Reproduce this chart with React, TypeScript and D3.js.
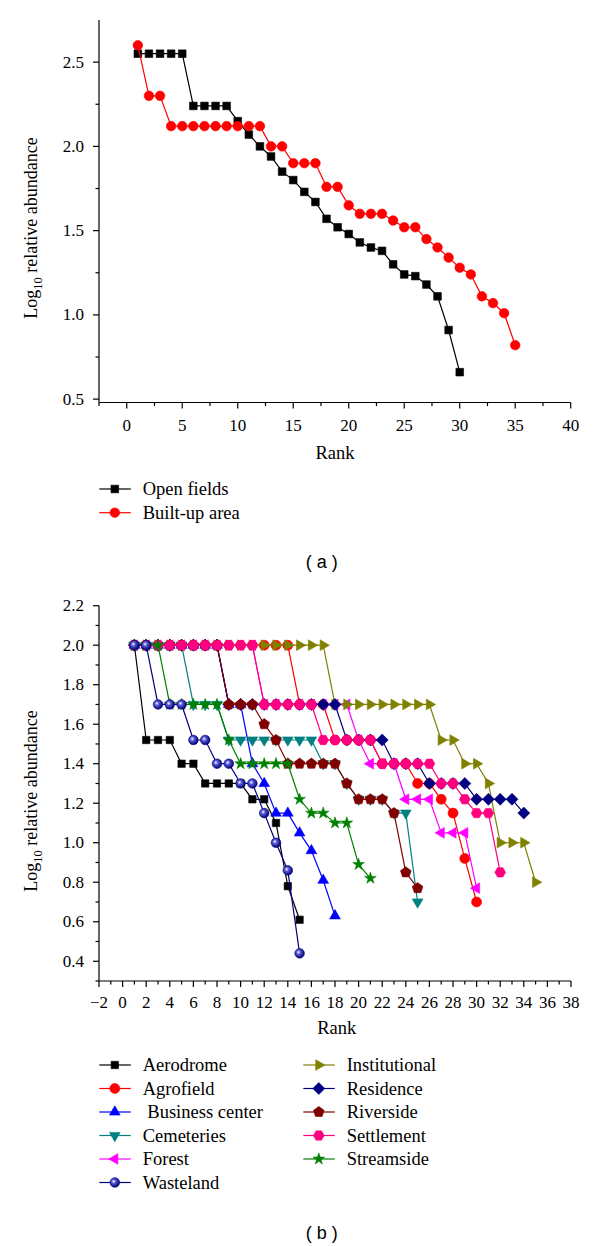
import React from 'react';
import * as d3 from 'd3';

// ---------- Panel (a) data ----------
const openFields = [2.55, 2.55, 2.55, 2.55, 2.55, 2.24, 2.24, 2.24, 2.24, 2.15, 2.07, 2.0, 1.94, 1.85, 1.8, 1.73, 1.67, 1.57, 1.52, 1.48, 1.43, 1.4, 1.38, 1.3, 1.24, 1.23, 1.18, 1.11, 0.91, 0.66];
const builtUp = [2.6, 2.3, 2.3, 2.12, 2.12, 2.12, 2.12, 2.12, 2.12, 2.12, 2.12, 2.12, 2.0, 2.0, 1.9, 1.9, 1.9, 1.76, 1.76, 1.65, 1.6, 1.6, 1.6, 1.56, 1.52, 1.52, 1.45, 1.4, 1.34, 1.28, 1.24, 1.11, 1.07, 1.01, 0.82];
const xTicksA = [0, 5, 10, 15, 20, 25, 30, 35, 40];
const xMinorA = [-2.5, 2.5, 7.5, 12.5, 17.5, 22.5, 27.5, 32.5, 37.5];
const yTicksA = [0.5, 1.0, 1.5, 2.0, 2.5];
const yMinorA = [0.75, 1.25, 1.75, 2.25];

// ---------- Panel (b) data ----------
const aerodrome = [2.0, 1.52, 1.52, 1.52, 1.4, 1.4, 1.3, 1.3, 1.3, 1.3, 1.22, 1.22, 1.1, 0.78, 0.61];
const agrofield = [2.0, 2.0, 2.0, 2.0, 2.0, 2.0, 2.0, 2.0, 2.0, 2.0, 2.0, 2.0, 2.0, 2.0, 1.7, 1.7, 1.7, 1.52, 1.52, 1.52, 1.52, 1.4, 1.4, 1.4, 1.3, 1.3, 1.22, 1.15, 0.92, 0.7];
const businessCenter = [2.0, 2.0, 2.0, 2.0, 2.0, 2.0, 2.0, 2.0, 1.7, 1.7, 1.4, 1.3, 1.15, 1.15, 1.05, 0.96, 0.81, 0.63];
const cemeteries = [2.0, 2.0, 2.0, 2.0, 2.0, 1.7, 1.7, 1.7, 1.52, 1.52, 1.52, 1.52, 1.52, 1.52, 1.52, 1.52, 1.4, 1.4, 1.3, 1.22, 1.22, 1.22, 1.15, 1.15, 0.7];
const forest = [2.0, 2.0, 2.0, 2.0, 2.0, 2.0, 2.0, 2.0, 2.0, 2.0, 2.0, 1.7, 1.7, 1.7, 1.7, 1.7, 1.7, 1.7, 1.7, 1.52, 1.4, 1.4, 1.4, 1.22, 1.22, 1.22, 1.05, 1.05, 1.05, 0.77];
const wasteland = [2.0, 2.0, 1.7, 1.7, 1.7, 1.52, 1.52, 1.4, 1.4, 1.3, 1.3, 1.15, 1.0, 0.86, 0.44];
const institutional = [2.0, 2.0, 2.0, 2.0, 2.0, 2.0, 2.0, 2.0, 2.0, 2.0, 2.0, 2.0, 2.0, 2.0, 2.0, 2.0, 2.0, 1.7, 1.7, 1.7, 1.7, 1.7, 1.7, 1.7, 1.7, 1.7, 1.52, 1.52, 1.4, 1.4, 1.3, 1.0, 1.0, 1.0, 0.8];
const residence = [2.0, 2.0, 2.0, 2.0, 2.0, 2.0, 2.0, 2.0, 1.7, 1.7, 1.7, 1.7, 1.7, 1.7, 1.7, 1.7, 1.7, 1.7, 1.52, 1.52, 1.52, 1.52, 1.4, 1.4, 1.4, 1.3, 1.3, 1.3, 1.3, 1.22, 1.22, 1.22, 1.22, 1.15];
const riverside = [2.0, 2.0, 2.0, 2.0, 2.0, 2.0, 2.0, 2.0, 1.7, 1.7, 1.7, 1.6, 1.52, 1.4, 1.4, 1.4, 1.4, 1.4, 1.3, 1.22, 1.22, 1.22, 1.15, 0.85, 0.77];
const settlement = [2.0, 2.0, 2.0, 2.0, 2.0, 2.0, 2.0, 2.0, 2.0, 2.0, 2.0, 1.7, 1.7, 1.7, 1.7, 1.7, 1.52, 1.52, 1.52, 1.52, 1.52, 1.4, 1.4, 1.4, 1.4, 1.4, 1.3, 1.3, 1.22, 1.15, 1.15, 0.85];
const streamside = [2.0, 2.0, 2.0, 1.7, 1.7, 1.7, 1.7, 1.7, 1.52, 1.4, 1.4, 1.4, 1.4, 1.4, 1.22, 1.15, 1.15, 1.1, 1.1, 0.89, 0.82];
const xTicksB = [-2, 0, 2, 4, 6, 8, 10, 12, 14, 16, 18, 20, 22, 24, 26, 28, 30, 32, 34, 36, 38];
const yTicksB = [0.4, 0.6, 0.8, 1.0, 1.2, 1.4, 1.6, 1.8, 2.0, 2.2];

const SERIF = '"Liberation Serif", "Times New Roman", serif';
const SANS = '"Liberation Sans", Arial, sans-serif';

function poly(n: number, r: number, rot: number): string {
  const pts = d3.range(n).map((i) => {
    const a = rot + (i * 2 * Math.PI) / n;
    return [r * Math.cos(a), r * Math.sin(a)];
  });
  return 'M' + pts.map((p) => p[0].toFixed(2) + ',' + p[1].toFixed(2)).join('L') + 'Z';
}

const SHAPES: Record<string, string> = {
  square: poly(4, 5.4, Math.PI / 4),
  squareB: poly(4, 5.2, Math.PI / 4),
  circle: d3.symbol(d3.symbolCircle, Math.PI * 4.8 * 4.8)() as string,
  circleB: d3.symbol(d3.symbolCircle, Math.PI * 5 * 5)() as string,
  ball: d3.symbol(d3.symbolCircle, Math.PI * 4.8 * 4.8)() as string,
  triUp: poly(3, 6.2, -Math.PI / 2),
  triDown: poly(3, 6.2, Math.PI / 2),
  triLeft: poly(3, 6.2, Math.PI),
  triRight: poly(3, 6.2, 0),
  diamond: poly(4, 6, 0),
  pentagon: poly(5, 5.6, -Math.PI / 2),
  hexagon: poly(6, 5.4, 0),
  star: d3.symbol(d3.symbolStar, 42)() as string,
};

type Series = { name: string; values: number[]; color: string; shape: string };

const seriesA: Series[] = [
  { name: 'Open fields', values: openFields, color: '#000000', shape: 'square' },
  { name: 'Built-up area', values: builtUp, color: '#ff0000', shape: 'circle' },
];

const legendLeftB: Series[] = [
  { name: 'Aerodrome', values: aerodrome, color: '#000000', shape: 'squareB' },
  { name: 'Agrofield', values: agrofield, color: '#ff0000', shape: 'circleB' },
  { name: ' Business center', values: businessCenter, color: '#0000ff', shape: 'triUp' },
  { name: 'Cemeteries', values: cemeteries, color: '#008080', shape: 'triDown' },
  { name: 'Forest', values: forest, color: '#ff00ff', shape: 'triLeft' },
  { name: 'Wasteland', values: wasteland, color: '#000080', shape: 'ball' },
];
const legendRightB: Series[] = [
  { name: 'Institutional', values: institutional, color: '#808000', shape: 'triRight' },
  { name: 'Residence', values: residence, color: '#000080', shape: 'diamond' },
  { name: 'Riverside', values: riverside, color: '#800000', shape: 'pentagon' },
  { name: 'Settlement', values: settlement, color: '#ff0080', shape: 'hexagon' },
  { name: 'Streamside', values: streamside, color: '#008000', shape: 'star' },
];
// drawing order (wasteland appears on top in the original)
const drawOrderB: Series[] = [
  legendLeftB[0], legendLeftB[1], legendLeftB[2], legendLeftB[3], legendLeftB[4],
  legendRightB[0], legendRightB[1], legendRightB[2], legendRightB[3], legendRightB[4],
  legendLeftB[5],
];

function Marker({ s, x, y }: { s: Series; x: number; y: number }) {
  const fill = s.shape === 'ball' ? 'url(#ballGrad)' : s.color;
  return (
    <path
      d={SHAPES[s.shape]}
      transform={`translate(${x},${y})`}
      fill={fill}
      stroke={s.color}
      strokeWidth={0.6}
    />
  );
}

function SeriesPlot({ s, x, y, lw }: { s: Series; x: d3.ScaleLinear<number, number>; y: d3.ScaleLinear<number, number>; lw: number }) {
  const pts = s.values.map((v, i) => [i + 1, v] as [number, number]);
  const line = d3.line<[number, number]>().x((d) => x(d[0])).y((d) => y(d[1]));
  return (
    <g>
      <path d={line(pts) as string} fill="none" stroke={s.color} strokeWidth={lw} />
      {pts.map((p, i) => (
        <Marker key={i} s={s} x={x(p[0])} y={y(p[1])} />
      ))}
    </g>
  );
}

function YLabel({ x, y }: { x: number; y: number }) {
  return (
    <text
      transform={`translate(${x},${y}) rotate(-90)`}
      textAnchor="middle"
      fontFamily={SERIF}
      fontSize={18}
      fill="#000"
    >
      Log
      <tspan fontSize={12.5} dy={5}>10</tspan>
      <tspan dy={-5}> relative abundance</tspan>
    </text>
  );
}

function Axes({
  x, y, xTicks, xMinor, yTicks, yMinor, xFmt, yFmt, labelY,
}: {
  x: d3.ScaleLinear<number, number>; y: d3.ScaleLinear<number, number>;
  xTicks: number[]; xMinor: number[]; yTicks: number[]; yMinor: number[];
  xFmt: (v: number) => string; yFmt: (v: number) => string; labelY: number;
}) {
  const [x0, x1] = x.range();
  const [y0, y1] = y.range();
  return (
    <g stroke="#000" strokeWidth={1.2}>
      <line x1={x0} x2={x1} y1={y0} y2={y0} />
      <line x1={x0} x2={x0} y1={y0} y2={y1} />
      {xTicks.map((t) => (
        <line key={'xt' + t} x1={x(t)} x2={x(t)} y1={y0} y2={y0 + 6} />
      ))}
      {xMinor.map((t) => (
        <line key={'xm' + t} x1={x(t)} x2={x(t)} y1={y0} y2={y0 + 3.5} />
      ))}
      {yTicks.map((t) => (
        <line key={'yt' + t} x1={x0} x2={x0 - 6} y1={y(t)} y2={y(t)} />
      ))}
      {yMinor.map((t) => (
        <line key={'ym' + t} x1={x0} x2={x0 - 3.5} y1={y(t)} y2={y(t)} />
      ))}
      <g stroke="none" fill="#000" fontFamily={SERIF} fontSize={17}>
        {xTicks.map((t) => (
          <text key={'xl' + t} x={x(t)} y={labelY} textAnchor="middle" dominantBaseline="central">
            {xFmt(t)}
          </text>
        ))}
        {yTicks.map((t) => (
          <text key={'yl' + t} x={x0 - 15} y={y(t)} textAnchor="end" dominantBaseline="central">
            {yFmt(t)}
          </text>
        ))}
      </g>
    </g>
  );
}

function LegendItem({ s, x, y, textX }: { s: Series; x: number; y: number; textX: number }) {
  return (
    <g>
      <line x1={x} x2={x + 31.5} y1={y} y2={y} stroke={s.color} strokeWidth={1.2} />
      <Marker s={s} x={x + 15.5} y={y} />
      <text
        x={textX}
        y={y}
        dominantBaseline="central"
        fontFamily={SERIF}
        fontSize={18.5}
        fill="#000"
        style={{ whiteSpace: 'pre' }}
      >
        {s.name}
      </text>
    </g>
  );
}

export default function App() {
  const xA = d3.scaleLinear().domain([-2.5, 40]).range([99, 570.7]);
  const yA = d3.scaleLinear().domain([0.48, 2.75]).range([402.5, 20]);
  const xB = d3.scaleLinear().domain([-2, 38]).range([99, 571]);
  const yB = d3.scaleLinear().domain([0.3, 2.2]).range([981, 605.7]);
  const xMinorB = d3.range(-1, 38, 2);
  const yMinorB = [0.3, 0.5, 0.7, 0.9, 1.1, 1.3, 1.5, 1.7, 1.9, 2.1];

  const fmtB = (v: number) => (v < 0 ? '\u2212' + Math.abs(v) : String(v));

  return (
    <svg
      width={600}
      height={1246}
      style={{ position: 'absolute', left: 0, top: 0, background: '#fff' }}
      xmlns="http://www.w3.org/2000/svg"
    >
      <defs>
        <radialGradient id="ballGrad" cx="0.4" cy="0.4" r="0.6" fx="0.38" fy="0.38">
          <stop offset="0%" stopColor="#ffffff" />
          <stop offset="35%" stopColor="#5a5ad8" />
          <stop offset="100%" stopColor="#000070" />
        </radialGradient>
      </defs>
      <rect x={0} y={0} width={600} height={1246} fill="#fff" />

      {/* Panel (a) */}
      <Axes
        x={xA} y={yA}
        xTicks={xTicksA} xMinor={xMinorA} yTicks={yTicksA} yMinor={yMinorA}
        xFmt={(v) => String(v)} yFmt={(v) => v.toFixed(1)} labelY={425}
      />
      {seriesA.map((s) => (
        <SeriesPlot key={s.name} s={s} x={xA} y={yA} lw={1.2} />
      ))}
      <text x={335} y={453} textAnchor="middle" dominantBaseline="central" fontFamily={SERIF} fontSize={18.5}>
        Rank
      </text>
      <YLabel x={37} y={228} />
      {seriesA.map((s, i) => (
        <LegendItem key={s.name} s={s} x={99.3} y={489 + i * 23.7} textX={142.7} />
      ))}
      <text x={321.7} y={561.7} textAnchor="middle" dominantBaseline="central" fontFamily={SANS} fontSize={18}>
        ( a )
      </text>

      {/* Panel (b) */}
      <Axes
        x={xB} y={yB}
        xTicks={xTicksB} xMinor={xMinorB} yTicks={yTicksB} yMinor={yMinorB}
        xFmt={fmtB} yFmt={(v) => v.toFixed(1)} labelY={1002}
      />
      {drawOrderB.map((s) => (
        <SeriesPlot key={s.name} s={s} x={xB} y={yB} lw={1.2} />
      ))}
      <text x={336.7} y={1028} textAnchor="middle" dominantBaseline="central" fontFamily={SERIF} fontSize={18.5}>
        Rank
      </text>
      <YLabel x={37} y={801} />
      {legendLeftB.map((s, i) => (
        <LegendItem key={s.name} s={s} x={99.3} y={1065 + i * 23.5} textX={142.7} />
      ))}
      {legendRightB.map((s, i) => (
        <LegendItem key={s.name} s={s} x={303.3} y={1065 + i * 23.5} textX={346.7} />
      ))}
      <text x={321.7} y={1232.7} textAnchor="middle" dominantBaseline="central" fontFamily={SANS} fontSize={18}>
        ( b )
      </text>
    </svg>
  );
}
